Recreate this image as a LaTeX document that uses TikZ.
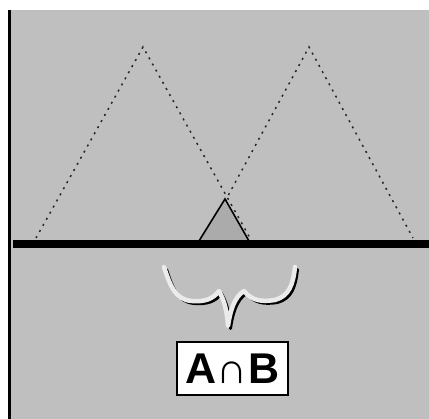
\documentclass[tikz,border=0pt]{standalone}
\usepackage{fontspec}
\setmainfont{Liberation Sans}
\begin{document}
\begin{tikzpicture}[x=1pt,y=-1pt,
  dashline/.style={line width=1.5pt, dash pattern=on 2pt off 5pt, black!85},
  bracelight/.style={line width=4.5pt, color=black!8, line cap=round, line join=round},
  braceshadow/.style={line width=3pt, black, line cap=round, line join=round},
  labelbox/.style={draw=black, line width=1.4pt, fill=white, minimum width=111pt, minimum height=53pt, inner sep=0pt, font=\fontsize{43}{43}\selectfont\bfseries}]
\useasboundingbox (0,0) rectangle (429,419);
\fill[white] (0,0) rectangle (429,419);
\fill[black!25] (10,10) rectangle (429,419);
\fill[black] (8,10) rectangle (10.5,419);
% dotted triangles
\coordinate (L1) at (36,238); \coordinate (A1) at (143,47); \coordinate (R1) at (250,238);
\coordinate (L2) at (205,238); \coordinate (A2) at (309,47); \coordinate (R2) at (413,238);
\draw[dashline] (L1) -- (A1) -- (R1);
\draw[dashline] (L2) -- (A2) -- (R2);
% intersection triangle
\coordinate (T1) at (199,241); \coordinate (T2) at (225,199); \coordinate (T3) at (249,241);
\filldraw[fill=black!33, draw=black, line width=1.6pt, line join=miter] (T1) -- (T2) -- (T3);
% base line
\fill[black] (13,240.5) rectangle (429,248);
% brace
\def\bracepath{(164,267) .. controls (170,285) and (175,300) .. (192,301) .. controls (205,302) and (213,299) .. (219,291) .. controls (224,300) and (227,310) .. (228,326) .. controls (230,312) and (234,297) .. (244,291) .. controls (252,301) and (262,302) .. (275,300) .. controls (289,296) and (293,285) .. (295,267)}
\draw[braceshadow, shift={(2.5,2.5)}] \bracepath;
\draw[bracelight] \bracepath;
% label
\node[labelbox] (lbl) at (232.5,368.5) {A∩B};
\end{tikzpicture}
\end{document}
